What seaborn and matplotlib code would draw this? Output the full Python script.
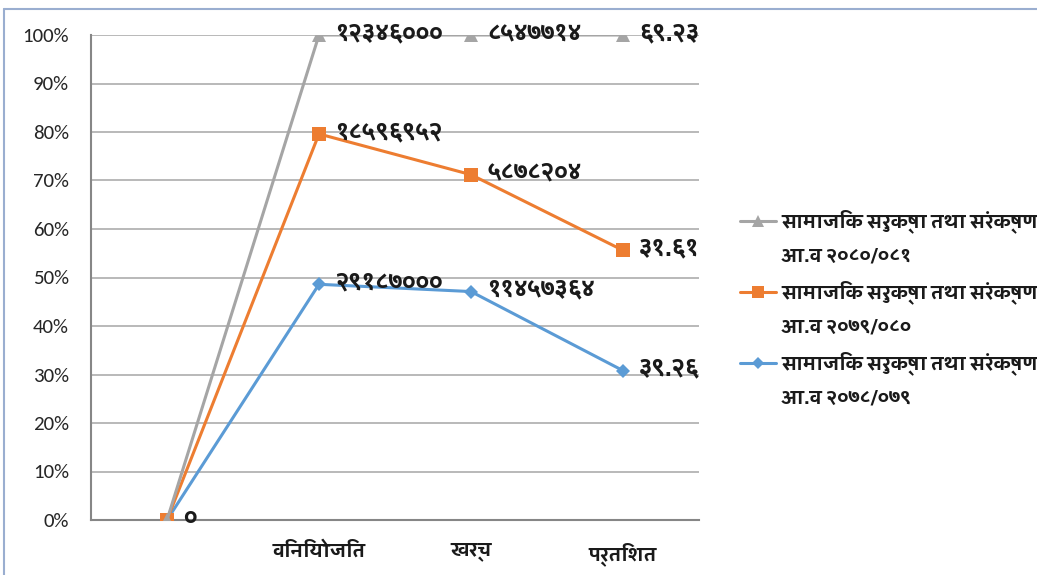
import matplotlib
matplotlib.use("Agg")
import matplotlib.pyplot as plt
from matplotlib import font_manager as fm
from matplotlib.ticker import PercentFormatter, FixedLocator
from matplotlib.lines import Line2D
import numpy as np
import pandas as pd
import seaborn as sns

# ---------------- data ----------------
categories = ["", "विनियोजित", "खर्च", "प्रतिशत"]
series_line1 = ["सामाजिक सुरक्षा तथा संरक्षण"] * 3
series_line2 = ["आ.व २०८०/०८१", "आ.व २०७९/०८०", "आ.व २०७८/०७९"]
# plotted (cumulative share) values
gray_vals = [0.0, 1.00, 1.00, 1.00]
orange_vals = [0.0, 0.796, 0.712, 0.556]
blue_vals = [0.0, 0.486, 0.471, 0.308]
# data labels shown next to points
gray_labels = ["०", "१२३४६०००", "८५४७७१४", "६९.२३"]
orange_labels = ["", "१८५९६९५२", "५८७८२०४", "३१.६१"]
blue_labels = ["", "२९१८७०००", "११४५७३६४", "३९.२६"]

series_names = [a + "\n" + b for a, b in zip(series_line1, series_line2)]

# ---------------- fonts ----------------
sns.set_theme(style="white")
names = {f.name for f in fm.fontManager.ttflist}
def pick(cands):
    for c in cands:
        if c in names:
            return c
    return "DejaVu Sans"
dev_font = pick(["Sarala", "Karma", "Amiko", "Noto Sans Devanagari", "FreeSans"])
lat_font = pick(["Carlito", "Calibri", "Lato", "Open Sans", "DejaVu Sans"])
plt.rcParams["font.family"] = [dev_font, lat_font, "DejaVu Sans"]
DEV = [dev_font, "Noto Sans Devanagari", "DejaVu Sans"]

W, H = 1037, 575
fig = plt.figure(figsize=(W / 100, H / 100), dpi=100)
fig.patch.set_facecolor("white")
ax = fig.add_axes([91 / W, 1 - 520 / H, (699 - 91) / W, (520 - 35) / H])

x = np.arange(len(categories))
df = pd.DataFrame({
    "x": np.tile(x, 3),
    "value": blue_vals + orange_vals + gray_vals,
    "series": np.repeat([series_names[2], series_names[1], series_names[0]], len(categories)),
})

colors = {series_names[0]: "#a5a5a5", series_names[1]: "#ed7d31", series_names[2]: "#5b9bd5"}
markers = {series_names[0]: "^", series_names[1]: "s", series_names[2]: "D"}
msizes = {series_names[0]: 10, series_names[1]: 9.5, series_names[2]: 7.5}

# draw blue first, gray last (on top)
for name in [series_names[2], series_names[1], series_names[0]]:
    sub = df[df["series"] == name]
    sns.lineplot(data=sub, x="x", y="value", ax=ax, color=colors[name],
                 marker=markers[name], markersize=msizes[name],
                 markeredgewidth=0, linewidth=2.2, sort=False, legend=False, zorder=3)

# data labels
label_sets = [(blue_vals, blue_labels), (orange_vals, orange_labels), (gray_vals, gray_labels)]
for vals, labs in label_sets:
    for xi, (v, t) in enumerate(zip(vals, labs)):
        if t:
            ax.annotate(t, (xi, v), xytext=(16, 1), textcoords="offset pixels",
                        ha="left", va="center", fontsize=17, fontweight="bold",
                        color="#1a1a1a", family=DEV, zorder=5,
                        annotation_clip=False)

# axes styling
ax.set_xlim(-0.5, len(categories) - 0.5)
ax.set_ylim(0, 1)
ax.yaxis.set_major_locator(FixedLocator(np.linspace(0, 1, 11)))
ax.yaxis.set_major_formatter(PercentFormatter(1.0, decimals=0))
ax.set_xticks(x)
ax.set_xticklabels(categories, family=DEV, fontsize=14, fontweight="bold", color="#1a1a1a")
ax.set_xticks(np.arange(-0.5, len(categories), 1.0), minor=True)
ax.tick_params(axis="x", which="major", length=0, pad=16)
ax.tick_params(axis="x", which="minor", length=5, width=1.2, color="#868686", direction="out")
ax.tick_params(axis="y", which="major", length=6, width=1.2, color="#868686", direction="out",
               pad=10)
for lab in ax.get_yticklabels():
    lab.set_family([lat_font, "DejaVu Sans"])
    lab.set_fontsize(15)
    lab.set_color("#262626")
ax.set_xlabel("")
ax.set_ylabel("")
ax.grid(axis="y", color="#a6a6a6", linewidth=1.1)
ax.set_axisbelow(True)
for s in ["top", "right"]:
    ax.spines[s].set_visible(False)
for s in ["left", "bottom"]:
    ax.spines[s].set_color("#868686")
    ax.spines[s].set_linewidth(1.5)

# legend: each series shown on two lines, handle aligned with the first line
handles, texts = [], []
for n, l1, l2 in zip(series_names, series_line1, series_line2):
    handles.append(Line2D([0], [0], color=colors[n], marker=markers[n], markersize=msizes[n] * 0.85,
                          markeredgewidth=0, linewidth=2.2))
    texts.append(l1)
    handles.append(Line2D([0], [0], color="none", linewidth=0))
    texts.append(l2)
leg = fig.legend(handles, texts, loc="upper left", bbox_to_anchor=(722 / W, 1 - 192 / H),
                 frameon=False, handlelength=1.9, handletextpad=0.25, labelspacing=0.75,
                 prop={"family": DEV, "size": 14, "weight": "bold"})
for t in leg.get_texts():
    t.set_color("#1a1a1a")

# chart border (partially visible)
fig.add_artist(Line2D([4 / W, 1.0], [1 - 9 / H, 1 - 9 / H], transform=fig.transFigure,
                      color="#9aaed0", linewidth=1.5))
fig.add_artist(Line2D([4 / W, 4 / W], [0, 1 - 9 / H], transform=fig.transFigure,
                      color="#9aaed0", linewidth=1.5))

fig.savefig("out.png", dpi=100)
